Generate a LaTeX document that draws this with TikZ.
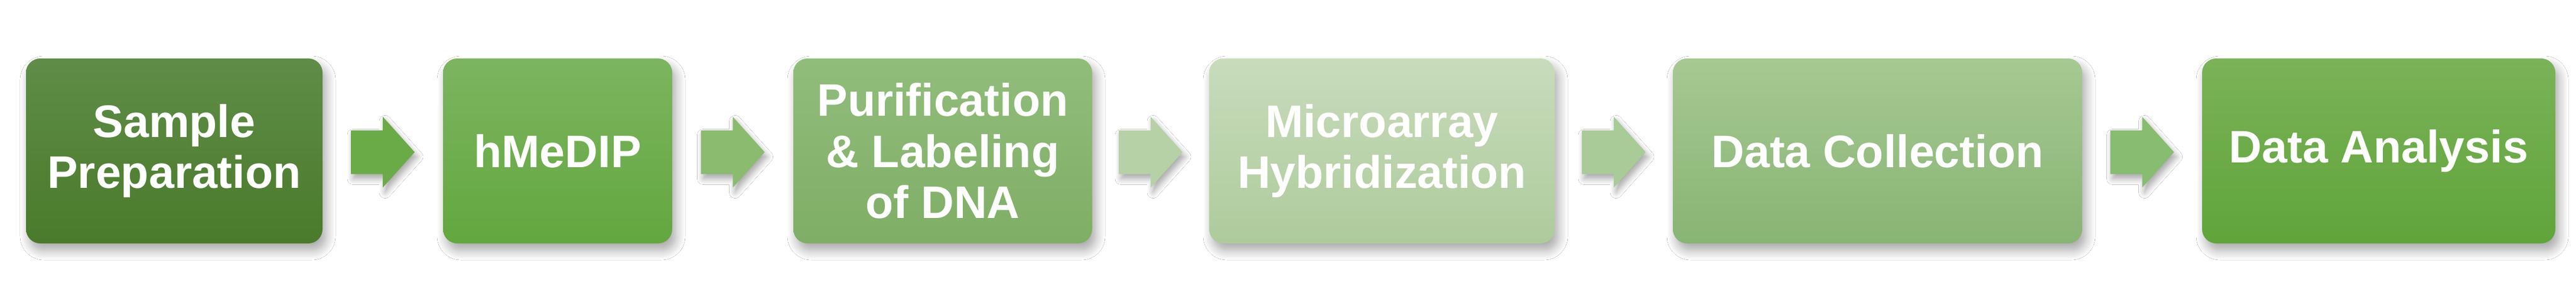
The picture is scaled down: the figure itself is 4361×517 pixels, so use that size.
\documentclass[tikz,border=0pt]{standalone}
\usepackage{fontspec}
\setmainfont{Liberation Sans}
\usetikzlibrary{calc,shadows.blur}
\begin{document}
\begin{tikzpicture}[x=0.25pt,y=-0.25pt,
  stepbox/.style={rounded corners=6pt, minimum height=78.25pt, inner sep=0pt,
    align=center, text=white,
    font=\fontsize{19.3}{21.7}\selectfont\bfseries,
    blur shadow={shadow xshift=1.5pt, shadow yshift=-3pt, shadow blur steps=10, shadow blur radius=4pt, shadow opacity=35}},
  blockarrow/.style={blur shadow={shadow xshift=1pt, shadow yshift=-2pt, shadow blur steps=8, shadow blur radius=2.5pt, shadow opacity=35}}
]
\definecolor{b1t}{HTML}{5F8D48}\definecolor{b1b}{HTML}{4A7A2A}
\definecolor{b2t}{HTML}{7CB560}\definecolor{b2b}{HTML}{63A73F}
\definecolor{b3t}{HTML}{91BD7B}\definecolor{b3b}{HTML}{7FAE66}
\definecolor{b4t}{HTML}{C8DCBC}\definecolor{b4b}{HTML}{AECB9C}
\definecolor{b5t}{HTML}{A6C992}\definecolor{b5b}{HTML}{88B474}
\definecolor{b6t}{HTML}{7AB358}\definecolor{b6b}{HTML}{60A43A}
\definecolor{a1}{HTML}{6AAB47}\definecolor{a2}{HTML}{8ABB6E}
\definecolor{a3}{HTML}{B6D1A6}\definecolor{a4}{HTML}{A8CB97}
\definecolor{a5}{HTML}{88BC70}
\useasboundingbox (0,0) rectangle (4361,517);
\fill[white] (0,0) rectangle (4361,517);
\node[stepbox, minimum width=125.5pt, top color=b1t, bottom color=b1b] (s1) at (295,255.5) {Sample\\Preparation};
\node[stepbox, minimum width=97pt, top color=b2t, bottom color=b2b] (s2) at (944,255.5) {hMeDIP};
\node[stepbox, minimum width=126.5pt, top color=b3t, bottom color=b3b] (s3) at (1596,255.5) {Purification\\\& Labeling\\of DNA};
\node[stepbox, minimum width=146.25pt, top color=b4t, bottom color=b4b] (s4) at (2339.5,255.5) {Microarray\\Hybridization};
\node[stepbox, minimum width=173.25pt, top color=b5t, bottom color=b5b] (s5) at (3178.5,255.5) {Data Collection};
\node[stepbox, minimum width=149.5pt, top color=b6t, bottom color=b6b] (s6) at (4027,255.5) {Data Analysis};
\foreach \a/\b/\c [count=\i] in {s1/s2/a1, s2/s3/a2, s3/s4/a3, s4/s5/a4, s5/s6/a5}{
  \coordinate (m\i) at ($(\a.east)!0.5!(\b.west)+(0,2)$);
  \fill[\c, blockarrow] ($(m\i)+(-54,-37)$) -- ($(m\i)+(0,-37)$) -- ($(m\i)+(0,-60)$)
     -- ($(m\i)+(54,0)$) -- ($(m\i)+(0,60)$) -- ($(m\i)+(0,37)$) -- ($(m\i)+(-54,37)$) -- cycle;
}
\end{tikzpicture}
\end{document}
